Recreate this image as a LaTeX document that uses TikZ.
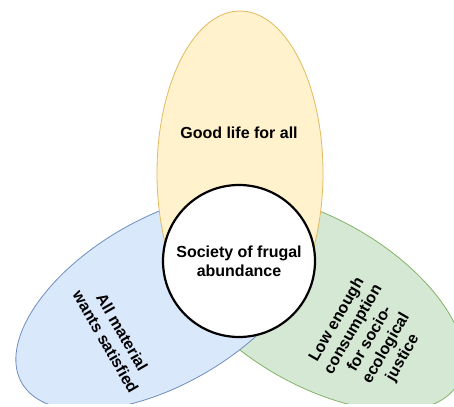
\documentclass[tikz,border=0pt]{standalone}
\usepackage{fontspec}
\setmainfont{Liberation Sans}
\usetikzlibrary{shapes.geometric}
\definecolor{yfill}{HTML}{FFF2CC}
\definecolor{ydraw}{HTML}{E2B960}
\definecolor{bfill}{HTML}{DAE8FC}
\definecolor{bdraw}{HTML}{6C8EBF}
\definecolor{gfill}{HTML}{D5E8D4}
\definecolor{gdraw}{HTML}{82B366}
\begin{document}
\begin{tikzpicture}[x=1pt,y=1pt,
  petal/.style={ellipse, line width=0.8pt, inner sep=0pt, outer sep=0pt,
                minimum width=166pt, minimum height=326pt},
  lbl/.style={font=\fontsize{16}{19}\selectfont\bfseries, align=center, inner sep=0pt},
  core/.style={circle, draw=black, line width=2.2pt, fill=white,
               minimum size=152pt, inner sep=0pt}]
\useasboundingbox (0,0) rectangle (454,406);
\begin{scope}
  \clip (0,3) rectangle (454,406);
  \node[petal, fill=gfill, draw=gdraw, rotate=60] (green) at (317,104) {};
  \node[petal, fill=bfill, draw=bdraw, rotate=-60] (blue) at (163,104.5) {};
  \node[petal, fill=yfill, draw=ydraw, minimum height=324pt] (yellow) at (240,233) {};
  \node[core] (soc) at (239,145) {};
  \node[lbl] (soctext) at (soc.center) {Society of frugal\\abundance};
  \node[lbl] (good) at (239,273) {Good life for all};
  \node[lbl, rotate=-60] (allmat) at (114,69) {All material\\wants satisfied};
  \node[lbl, rotate=60] (low) at (370,67) {Low enough\\consumption\\for socio-\\ecological\\justice};
\end{scope}
\end{tikzpicture}
\end{document}
